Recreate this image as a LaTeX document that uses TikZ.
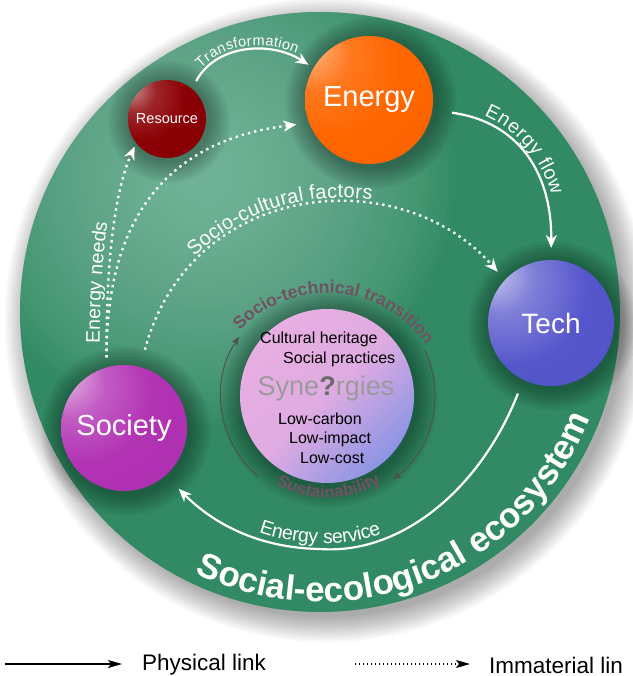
\documentclass[tikz,border=0pt]{standalone}
\usepackage{fontspec}
\setmainfont{Liberation Sans}
\usetikzlibrary{arrows.meta,decorations.text}
\definecolor{discc}{RGB}{49,138,99}
\definecolor{glowc}{RGB}{150,205,185}
\definecolor{resc}{RGB}{139,0,4}
\definecolor{enc}{RGB}{255,102,0}
\definecolor{techc}{RGB}{86,86,204}
\definecolor{socc}{RGB}{178,50,180}
\definecolor{pinkc}{RGB}{232,174,226}
\definecolor{lavc}{RGB}{140,148,228}
\definecolor{mauve}{RGB}{112,82,98}
\definecolor{arcgray}{RGB}{80,80,80}
\definecolor{synq}{RGB}{105,105,105}
\definecolor{syng}{RGB}{155,155,155}
\pgfdeclareradialshading{ballres}{\pgfpoint{-26bp}{22bp}}{color(0bp)=(resc!30!white); color(4bp)=(resc!50!white); color(14bp)=(resc!85!white); color(28bp)=(resc); color(75bp)=(resc!85!black)}
\pgfdeclareradialshading{ballen}{\pgfpoint{-26bp}{22bp}}{color(0bp)=(enc!40!white); color(4bp)=(enc!55!white); color(14bp)=(enc!88!white); color(28bp)=(enc); color(75bp)=(enc!92!black)}
\pgfdeclareradialshading{balltech}{\pgfpoint{-26bp}{22bp}}{color(0bp)=(techc!25!white); color(4bp)=(techc!40!white); color(14bp)=(techc!75!white); color(30bp)=(techc); color(75bp)=(techc!92!black)}
\pgfdeclareradialshading{ballsoc}{\pgfpoint{-26bp}{22bp}}{color(0bp)=(socc!25!white); color(4bp)=(socc!45!white); color(14bp)=(socc!80!white); color(28bp)=(socc); color(75bp)=(socc!92!black)}
\begin{document}
\begin{tikzpicture}[x=1pt,y=-1pt,
  sphere/.style={circle, inner sep=0pt, outer sep=0pt, text=white},
  phys/.style={white, line width=2.2pt, -{Stealth[length=13pt,width=11pt,inset=4pt]}},
  immat/.style={white, line width=2.4pt, dash pattern=on 2.4pt off 4pt, -{Stealth[length=13pt,width=11pt,inset=4pt]}},
  cyc/.style={arcgray, line width=1pt, -{Stealth[length=9pt,width=7pt,inset=2.5pt]}},
  ctext/.style={anchor=west, inner sep=0pt, font=\fontsize{16}{17}\selectfont, text=black},
  legtext/.style={anchor=west, inner sep=0pt, font=\fontsize{22.5}{24}\selectfont, text=black},
]
\useasboundingbox (0,0) rectangle (632,676);
\fill[white] (0,0) rectangle (632,676);
% soft shadow of the disc
\foreach \k in {0,...,14} {\fill[black,opacity=0.024] (327,320) circle ({297+1.8*\k});}
% disc
\fill[discc] (320,312) circle (300);
\begin{scope}
  \clip (320,312) circle (300);
  \foreach \k in {0,...,34} {\fill[glowc,opacity=0.035] (205,175) circle ({250-6.5*\k});}
\end{scope}
% halos
\foreach \cx/\cy/\r in {167/119/39, 369/100/64, 551/323/63, 124/428/63, 327/396/87}
  {\foreach \k in {1,...,10} {\fill[black,opacity=0.035] (\cx+2,\cy+3) circle ({\r+2.2*\k});}}

% central circle
\node[circle, minimum size=174pt, inner sep=0pt, outer sep=0pt, top color=pinkc, bottom color=lavc, middle color=pinkc!90!lavc, shading angle=45] (syn) at (327,396) {};
\node[ctext] (t1) at (260,339) {Cultural heritage};
\node[ctext] (t2) at (283,359) {Social practices};
\node[inner sep=0pt, font=\fontsize{27}{28}\selectfont, text=syng] (t3) at (326,389) {Syne{\bfseries\color{synq}?}rgies};
\node[ctext] (t4) at (278,419) {Low-carbon};
\node[ctext] (t5) at (289,439) {Low-impact};
\node[ctext] (t6) at (300,458) {Low-cost};

% cycle around the centre
\draw[cyc] (syn.center) ++(-229:106) arc[start angle=-229, end angle=-146, radius=106];
\draw[cyc] (syn.center) ++(-25:108) arc[start angle=-25, end angle=53, radius=106];
\coordinate (tc) at (327,412);
\path[decorate, decoration={text along path, text align=center,
  text={|\bfseries\fontsize{17.5}{17.5}\selectfont\color{mauve}|Socio-technical transition}}]
  (tc) ++(-151:119) arc[start angle=-151, end angle=-20, radius=119];
\path[decorate, decoration={text along path, text align=center,
  text={|\bfseries\fontsize{17}{17}\selectfont\color{mauve}|Sustainability}}]
  (syn.center) ++(124:102) arc[start angle=124, end angle=54, radius=102];

% spheres
\node[sphere, minimum size=78pt, shading=ballres, font=\fontsize{14.5}{15}\selectfont] (resource) at (167,119) {Resource};
\node[sphere, minimum size=128pt, shading=ballen, font=\fontsize{29}{30}\selectfont] (energy) at (369,100) {Energy};
\node[sphere, minimum size=126pt, shading=balltech, font=\fontsize{28}{29}\selectfont] (tech) at (551,323) {Tech};
\node[sphere, minimum size=126pt, shading=ballsoc, font=\fontsize{29}{30}\selectfont] (society) at (124,428) {Society};

% physical links
\draw[phys, shorten <=9pt, shorten >=6pt] (resource.50) .. controls (215,45) and (270,40) .. (energy.150);
\path[decorate, decoration={text along path, text align=center, raise=5pt,
  text={|\fontsize{14.5}{15}\selectfont\color{white}|Transformation}}]
  (resource.50) .. controls (215,45) and (270,40) .. (energy.150);
\draw[phys, shorten <=20pt, shorten >=12pt] (energy.-9) .. controls (520,122) and (552,175) .. (tech.90);
\path[decorate, decoration={text along path, text align={left, left indent=50pt}, raise=8pt,
  text={|\fontsize{19.5}{20}\selectfont\color{white}|Energy flow}}]
  (energy.-9) .. controls (520,122) and (552,175) .. (tech.90);
\draw[phys, shorten <=15pt, shorten >=19pt] (tech.-116) .. controls (480,490) and (400,555) .. (320,549) .. controls (260,548) and (215,525) .. (society.-49);
\path[decorate, decoration={text along path, text align={left, left indent=112pt}, raise=6pt,
  text={|\fontsize{19.5}{20}\selectfont\color{white}|Energy service}}]
  (society.-49) .. controls (215,525) and (260,548) .. (320,549) .. controls (400,555) and (480,490) .. (tech.-116);

% immaterial links
\draw[immat, shorten <=10pt, shorten >=4pt] (society.106) .. controls (106,260) and (115,190) .. (resource.218);
\draw[immat, shorten <=10pt, shorten >=13pt] (society.106) .. controls (106,215) and (170,140) .. (energy.201);
\path[decorate, decoration={text along path, text align={left, left indent=24pt}, raise=7pt,
  text={|\fontsize{19.5}{20}\selectfont\color{white}|Energy needs}}]
  (society.106) .. controls (106,260) and (115,190) .. (resource.218);
\draw[immat, shorten <=18pt, shorten >=11pt] (society.75) .. controls (190,180) and (400,160) .. (tech.137);
\path[decorate, decoration={text along path, text align={left, left indent=122pt}, raise=7pt,
  text={|\fontsize{20}{20}\selectfont\color{white}|Socio-cultural factors}}]
  (society.75) .. controls (190,180) and (400,160) .. (tech.137);

% ecosystem label
\path[decorate, decoration={text along path, text align=center,
  text={|\bfseries\fontsize{35}{35}\selectfont\color{white}|Social-ecological ecosystem}}]
  (320,312) ++(115:290) arc[start angle=115, end angle=22, radius=290];

% legend
\coordinate (pa) at (5,664);
\coordinate (pb) at (122,664);
\draw[black, line width=1.3pt, -{Stealth[length=14pt,width=8pt,inset=3pt]}] (pa) -- (pb);
\node[legtext] (plink) at (142,665) {Physical link};
\coordinate (ia) at (355,664);
\coordinate (ib) at (470,664);
\draw[black, line width=1.3pt, dash pattern=on 1.3pt off 2.7pt, -{Stealth[length=14pt,width=8pt,inset=3pt]}] (ia) -- (ib);
\node[legtext] (ilink) at (489,665) {Immaterial lin};
\end{tikzpicture}
\end{document}
